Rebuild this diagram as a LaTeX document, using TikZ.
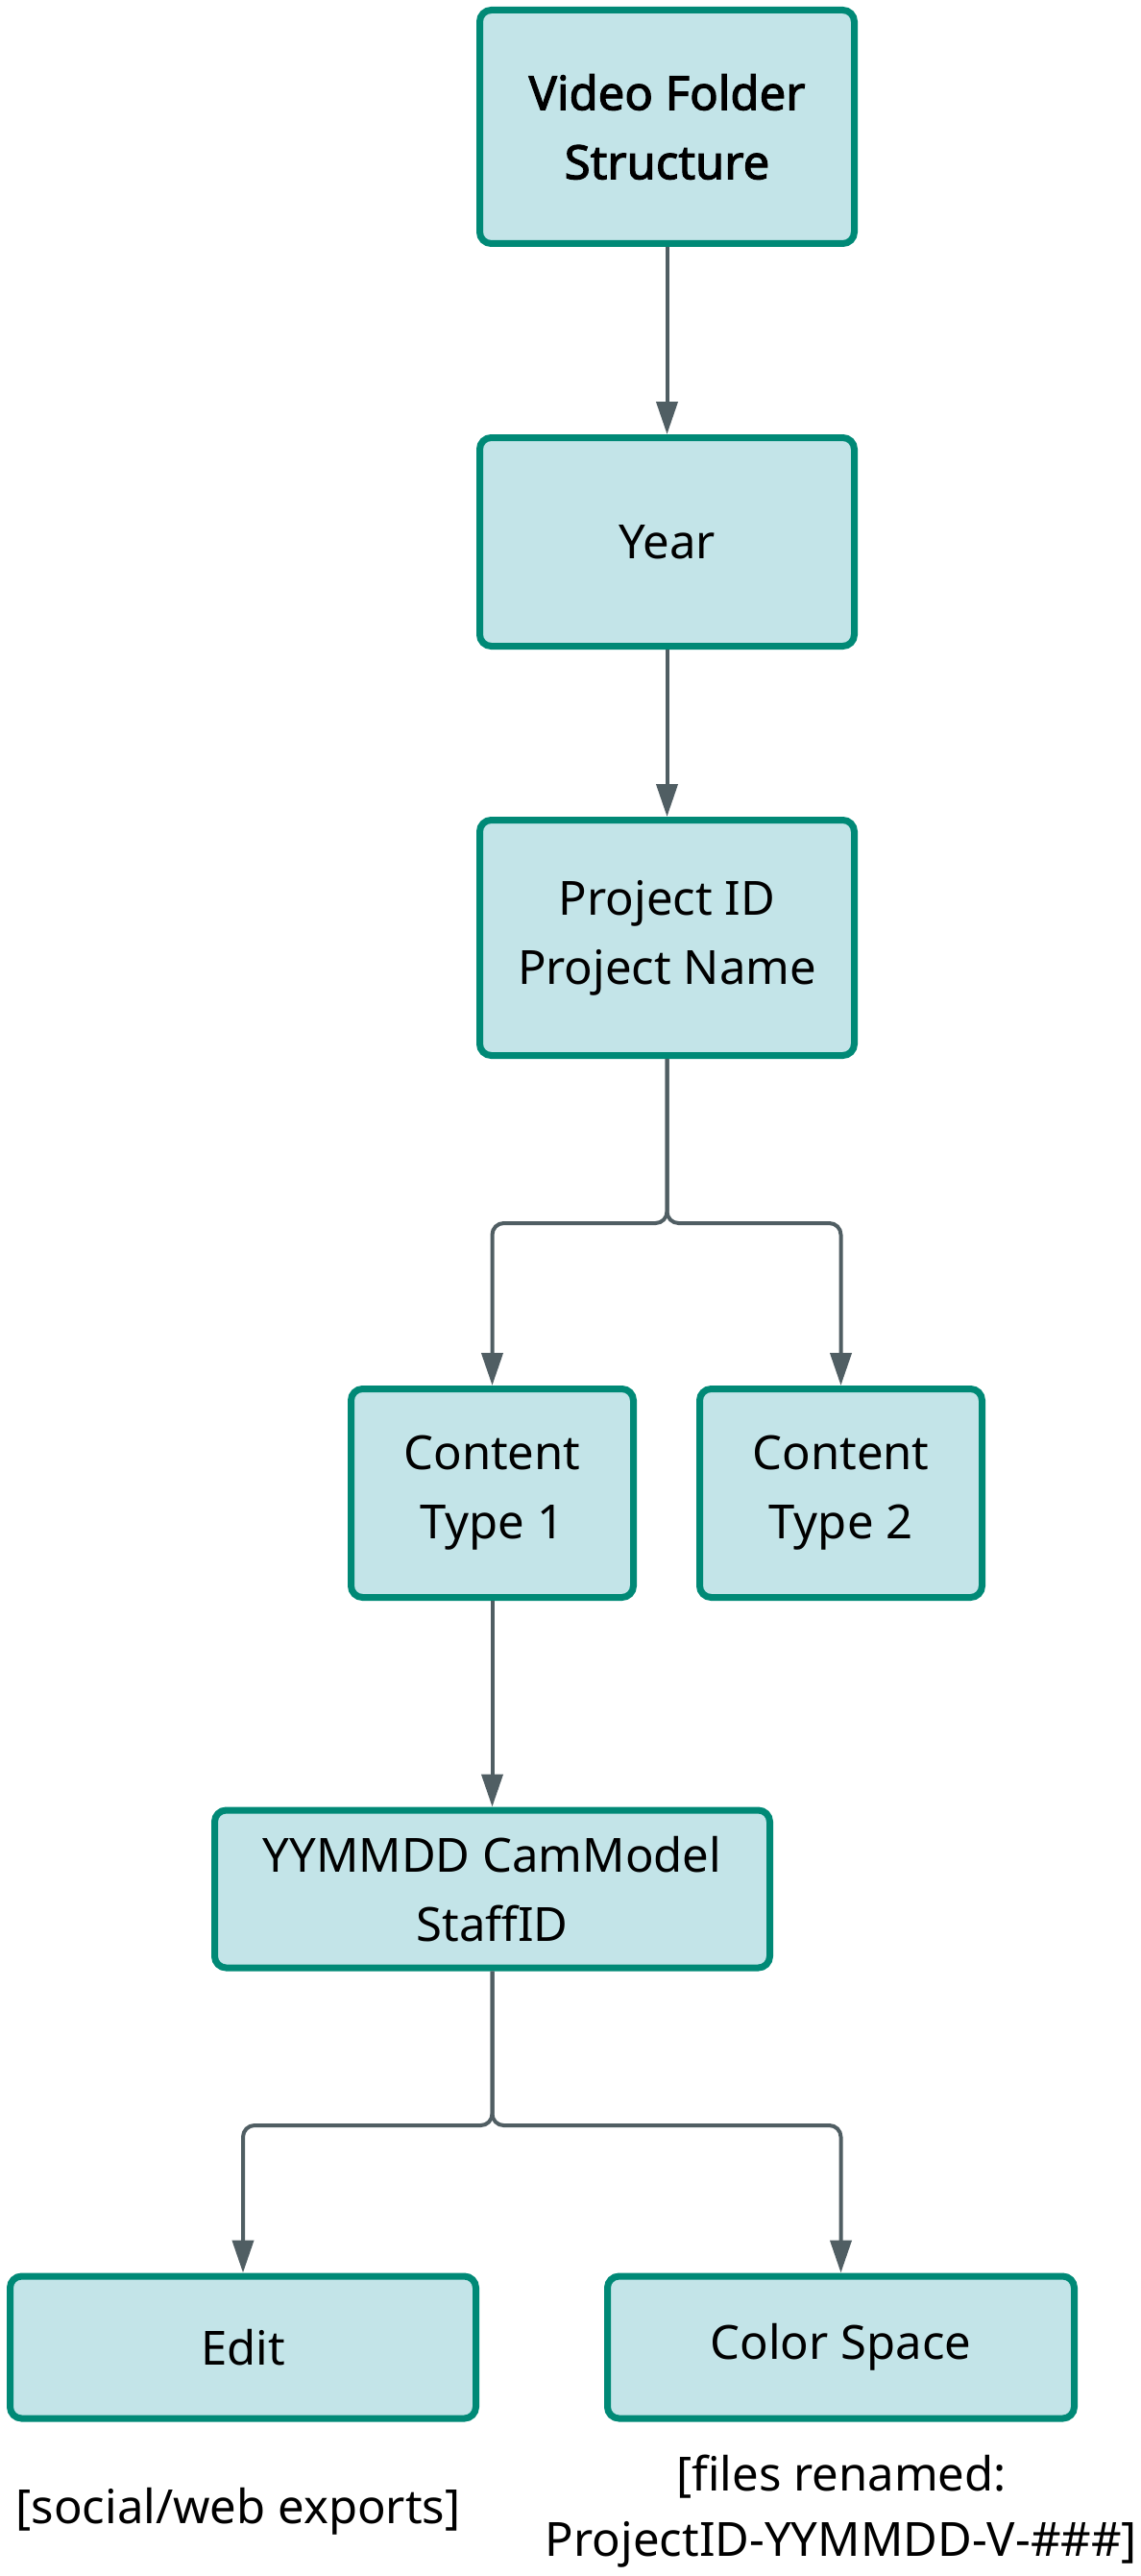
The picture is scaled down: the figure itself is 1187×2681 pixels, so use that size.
\documentclass[tikz,border=0pt]{standalone}
\usepackage{fontspec}
\setmainfont{Noto Sans}[AutoFakeBold=2.2]
\usetikzlibrary{arrows.meta}
\definecolor{boxline}{RGB}{0,137,118}
\definecolor{boxfill}{RGB}{195,228,232}
\definecolor{edgecol}{RGB}{80,94,99}
\tikzset{
  fbox/.style={draw=boxline, fill=boxfill, line width=7pt, rounded corners=12pt,
    align=center, inner sep=0pt, font=\fontsize{49}{72}\selectfont},
  lbl/.style={align=center, inner sep=0pt, font=\fontsize{49}{68}\selectfont},
  conn/.style={draw=edgecol, line width=4pt, rounded corners=12pt,
    -{Triangle[length=34pt,width=22pt]}},
}
\begin{document}
\begin{tikzpicture}[x=1pt,y=-1pt]
\useasboundingbox (0,0) rectangle (1187,2681);
\node[fbox, minimum width=390pt, minimum height=243pt, font=\fontsize{49}{72}\selectfont\bfseries] (top) at (694.5,132) {Video Folder\\Structure};
\node[fbox, minimum width=390pt, minimum height=217pt] (year) at (694.5,564) {Year};
\node[fbox, minimum width=390pt, minimum height=245pt] (proj) at (694.5,976) {Project ID\\Project Name};
\node[fbox, minimum width=294pt, minimum height=217pt] (ct1) at (512.5,1554) {Content\\Type 1};
\node[fbox, minimum width=294pt, minimum height=217pt] (ct2) at (875.5,1554) {Content\\Type 2};
\node[fbox, minimum width=578pt, minimum height=164pt] (ymd) at (512.5,1966) {YYMMDD CamModel\\StaffID};
\node[fbox, minimum width=485pt, minimum height=148pt] (edit) at (253,2443) {Edit};
\node[fbox, minimum width=486pt, minimum height=148pt] (cs) at (875.5,2443) {Color Space};
\node[lbl] (social) at (248,2614) {[social/web exports]};
\node[lbl] (files) at (876,2614) {[files renamed:\\ProjectID-YYMMDD-V-\#\#\#]};
\coordinate (s1) at (694.5,1273);
\coordinate (s2) at (512.5,2212);
\draw[conn] (top.south) -- (year.north);
\draw[conn] (year.south) -- (proj.north);
\draw[conn] (proj.south) -- (s1) -| (ct1.north);
\draw[conn] (proj.south) -- (s1) -| (ct2.north);
\draw[conn] (ct1.south) -- (ymd.north);
\draw[conn] (ymd.south) -- (s2) -| (edit.north);
\draw[conn] (ymd.south) -- (s2) -| (cs.north);
\end{tikzpicture}
\end{document}
